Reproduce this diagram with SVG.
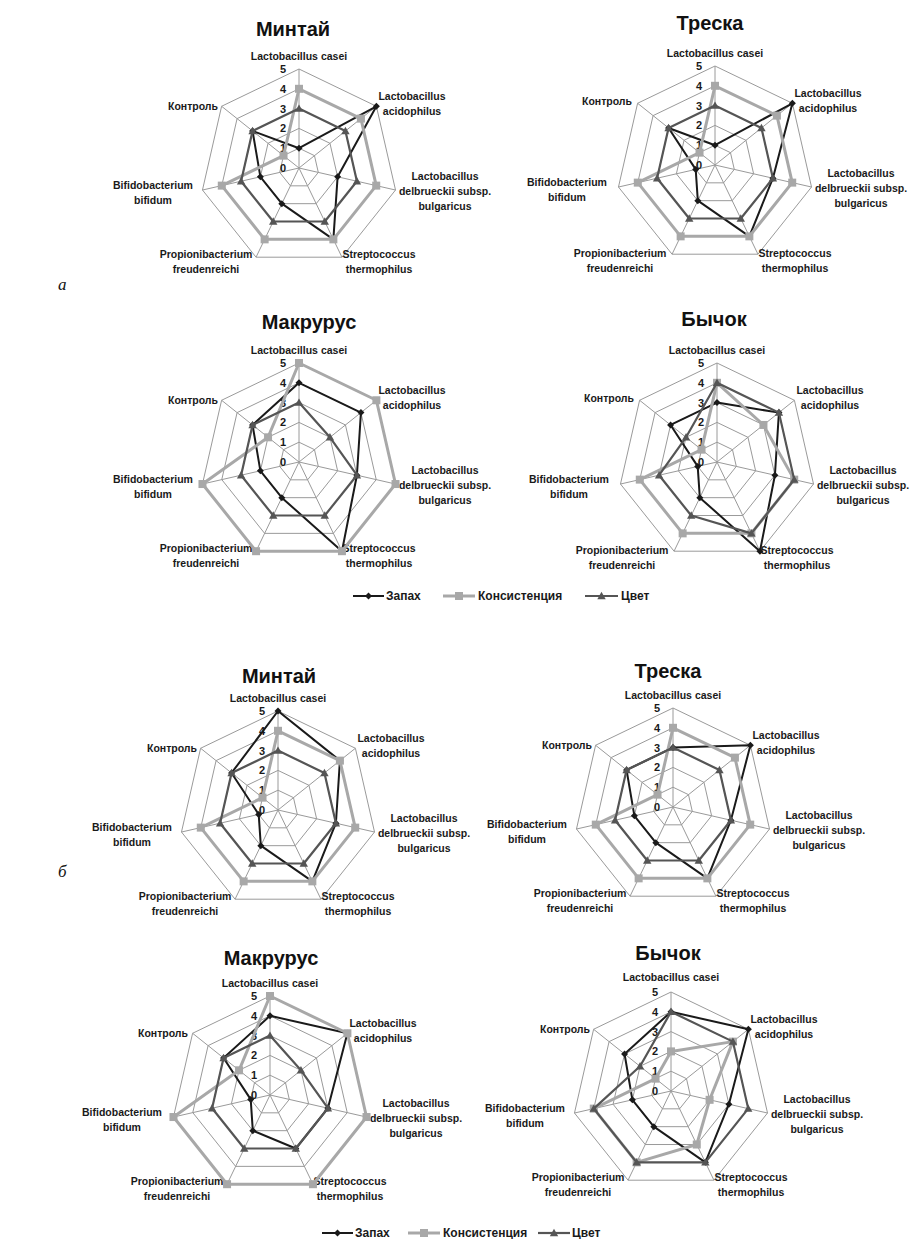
<svg xmlns="http://www.w3.org/2000/svg" width="918" height="1239" viewBox="0 0 918 1239">
<style>
.ring{fill:none;stroke:#9a9a9a;stroke-width:1}
.t{font-family:"Liberation Sans",Arial,sans-serif;font-weight:bold;font-size:10.5px;fill:#1a1a1a}
.m{text-anchor:middle}
.e{text-anchor:end}
.tk{font-size:11px;text-anchor:middle}
.title{font-family:"Liberation Sans",Arial,sans-serif;font-weight:bold;font-size:20px;fill:#111;text-anchor:middle}
.zap{fill:none;stroke:#1a1a1a;stroke-width:2;stroke-linejoin:round;marker-start:url(#mD);marker-mid:url(#mD)}
.kon{fill:none;stroke:#a8a8a8;stroke-width:3;stroke-linejoin:round;marker-start:url(#mS);marker-mid:url(#mS)}
.cv{fill:none;stroke:#555;stroke-width:2.2;stroke-linejoin:round;marker-start:url(#mT);marker-mid:url(#mT)}
.leg{font-family:"Liberation Sans",Arial,sans-serif;font-weight:bold;font-size:12px;fill:#1a1a1a}
.sub{font-family:"Liberation Serif","Times New Roman",serif;font-style:italic;font-size:17px;fill:#111}
</style>
<defs>
<marker id="mD" viewBox="-5 -5 10 10" markerWidth="10" markerHeight="10" markerUnits="userSpaceOnUse" refX="0" refY="0" overflow="visible"><path d="M0,-3.5 L3.5,0 L0,3.5 L-3.5,0 Z" fill="#1a1a1a"/></marker>
<marker id="mS" viewBox="-5 -5 10 10" markerWidth="10" markerHeight="10" markerUnits="userSpaceOnUse" refX="0" refY="0" overflow="visible"><rect x="-4" y="-4" width="8" height="8" fill="#a8a8a8"/></marker>
<marker id="mT" viewBox="-5 -5 10 10" markerWidth="10" markerHeight="10" markerUnits="userSpaceOnUse" refX="0" refY="0" overflow="visible"><path d="M0,-4.2 L4.2,3.2 L-4.2,3.2 Z" fill="#555"/></marker>
<g id="grid">
<polygon class="ring" points="0,-19.8 15.48,-12.35 19.3,4.41 8.59,17.84 -8.59,17.84 -19.3,4.41 -15.48,-12.35"/>
<polygon class="ring" points="0,-39.6 30.96,-24.69 38.61,8.81 17.18,35.68 -17.18,35.68 -38.61,8.81 -30.96,-24.69"/>
<polygon class="ring" points="0,-59.4 46.44,-37.04 57.91,13.22 25.77,53.52 -25.77,53.52 -57.91,13.22 -46.44,-37.04"/>
<polygon class="ring" points="0,-79.2 61.92,-49.38 77.22,17.62 34.36,71.36 -34.36,71.36 -77.22,17.62 -61.92,-49.38"/>
<polygon class="ring" points="0,-99 77.4,-61.73 96.52,22.03 42.95,89.2 -42.95,89.2 -96.52,22.03 -77.4,-61.73"/>
<path class="ring" d="M0,0L0,-99M0,0L77.4,-61.73M0,0L96.52,22.03M0,0L42.95,89.2M0,0L-42.95,89.2M0,0L-96.52,22.03M0,0L-77.4,-61.73"/>
</g>
</defs>
<rect width="918" height="1239" fill="#fff"/>

<text class="sub" x="58" y="290">а</text>
<text class="sub" x="58" y="877">б</text>

<!-- Chart 1 -->
<g id="chart-a-mintai" transform="translate(299,168)">
<text class="title" x="-6" y="-132">Минтай</text>
<use href="#grid"/>
<text class="t m" x="0" y="-108">Lactobacillus casei</text>
<text class="t m" x="113" y="-68">Lactobacillus</text>
<text class="t m" x="113" y="-53">acidophilus</text>
<text class="t m" x="146" y="12">Lactobacillus</text>
<text class="t m" x="146" y="27">delbrueckii subsp.</text>
<text class="t m" x="146" y="42">bulgaricus</text>
<text class="t m" x="80" y="90">Streptococcus</text>
<text class="t m" x="80" y="105">thermophilus</text>
<text class="t m" x="-93" y="90">Propionibacterium</text>
<text class="t m" x="-93" y="105">freudenreichi</text>
<text class="t m" x="-146" y="21">Bifidobacterium</text>
<text class="t m" x="-146" y="36">bifidum</text>
<text class="t e" x="-81" y="-58">Контроль</text>
<text class="t tk" x="-16" y="-95">5</text><text class="t tk" x="-16" y="-75">4</text><text class="t tk" x="-16" y="-55">3</text><text class="t tk" x="-16" y="-36">2</text><text class="t tk" x="-16" y="-16">1</text><text class="t tk" x="-16" y="4">0</text>
<polygon class="zap" points="0,-19.8 77.4,-61.73 38.61,8.81 34.36,71.36 -17.18,35.68 -38.61,8.81 -46.44,-37.04"/>
<polygon class="kon" points="0,-79.2 61.92,-49.38 77.22,17.62 34.36,71.36 -34.36,71.36 -77.22,17.62 -15.48,-12.35"/>
<polygon class="cv" points="0,-59.4 46.44,-37.04 57.91,13.22 25.77,53.52 -25.77,53.52 -57.91,13.22 -46.44,-37.04"/>
</g>

<!-- Chart 2 -->
<g id="chart-a-treska" transform="translate(715,165)">
<text class="title" x="-5" y="-135">Треска</text>
<use href="#grid"/>
<text class="t m" x="0" y="-108">Lactobacillus casei</text>
<text class="t m" x="113" y="-68">Lactobacillus</text>
<text class="t m" x="113" y="-53">acidophilus</text>
<text class="t m" x="146" y="12">Lactobacillus</text>
<text class="t m" x="146" y="27">delbrueckii subsp.</text>
<text class="t m" x="146" y="42">bulgaricus</text>
<text class="t m" x="80" y="92">Streptococcus</text>
<text class="t m" x="80" y="107">thermophilus</text>
<text class="t m" x="-95" y="92">Propionibacterium</text>
<text class="t m" x="-95" y="107">freudenreichi</text>
<text class="t m" x="-148" y="21">Bifidobacterium</text>
<text class="t m" x="-148" y="36">bifidum</text>
<text class="t e" x="-83" y="-60">Контроль</text>
<text class="t tk" x="-16" y="-95">5</text><text class="t tk" x="-16" y="-75">4</text><text class="t tk" x="-16" y="-55">3</text><text class="t tk" x="-16" y="-36">2</text><text class="t tk" x="-16" y="-16">1</text><text class="t tk" x="-16" y="4">0</text>
<polygon class="zap" points="0,-19.8 77.4,-61.73 57.91,13.22 34.36,71.36 -17.18,35.68 -19.3,4.41 -46.44,-37.04"/>
<polygon class="kon" points="0,-79.2 61.92,-49.38 77.22,17.62 34.36,71.36 -34.36,71.36 -77.22,17.62 -15.48,-12.35"/>
<polygon class="cv" points="0,-59.4 46.44,-37.04 57.91,13.22 25.77,53.52 -25.77,53.52 -57.91,13.22 -46.44,-37.04"/>
</g>

<!-- Chart 3 -->
<g id="chart-a-makrurus" transform="translate(299,462)">
<text class="title" x="10" y="-133">Макрурус</text>
<use href="#grid"/>
<text class="t m" x="0" y="-108">Lactobacillus casei</text>
<text class="t m" x="113" y="-68">Lactobacillus</text>
<text class="t m" x="113" y="-53">acidophilus</text>
<text class="t m" x="146" y="12">Lactobacillus</text>
<text class="t m" x="146" y="27">delbrueckii subsp.</text>
<text class="t m" x="146" y="42">bulgaricus</text>
<text class="t m" x="80" y="90">Streptococcus</text>
<text class="t m" x="80" y="105">thermophilus</text>
<text class="t m" x="-93" y="90">Propionibacterium</text>
<text class="t m" x="-93" y="105">freudenreichi</text>
<text class="t m" x="-146" y="21">Bifidobacterium</text>
<text class="t m" x="-146" y="36">bifidum</text>
<text class="t e" x="-81" y="-58">Контроль</text>
<text class="t tk" x="-16" y="-95">5</text><text class="t tk" x="-16" y="-75">4</text><text class="t tk" x="-16" y="-55">3</text><text class="t tk" x="-16" y="-36">2</text><text class="t tk" x="-16" y="-16">1</text><text class="t tk" x="-16" y="4">0</text>
<polygon class="zap" points="0,-79.2 61.92,-49.38 57.91,13.22 42.95,89.2 -17.18,35.68 -38.61,8.81 -46.44,-37.04"/>
<polygon class="kon" points="0,-99 77.4,-61.73 96.52,22.03 42.95,89.2 -42.95,89.2 -96.52,22.03 -30.96,-24.69"/>
<polygon class="cv" points="0,-59.4 30.96,-24.69 57.91,13.22 25.77,53.52 -25.77,53.52 -57.91,13.22 -46.44,-37.04"/>
</g>

<!-- Chart 4 -->
<g id="chart-a-bychok" transform="translate(717,462)">
<text class="title" x="-3" y="-136">Бычок</text>
<use href="#grid"/>
<text class="t m" x="0" y="-108">Lactobacillus casei</text>
<text class="t m" x="113" y="-68">Lactobacillus</text>
<text class="t m" x="113" y="-53">acidophilus</text>
<text class="t m" x="146" y="12">Lactobacillus</text>
<text class="t m" x="146" y="27">delbrueckii subsp.</text>
<text class="t m" x="146" y="42">bulgaricus</text>
<text class="t m" x="80" y="92">Streptococcus</text>
<text class="t m" x="80" y="107">thermophilus</text>
<text class="t m" x="-95" y="92">Propionibacterium</text>
<text class="t m" x="-95" y="107">freudenreichi</text>
<text class="t m" x="-148" y="21">Bifidobacterium</text>
<text class="t m" x="-148" y="36">bifidum</text>
<text class="t e" x="-83" y="-60">Контроль</text>
<text class="t tk" x="-16" y="-95">5</text><text class="t tk" x="-16" y="-75">4</text><text class="t tk" x="-16" y="-55">3</text><text class="t tk" x="-16" y="-36">2</text><text class="t tk" x="-16" y="-16">1</text><text class="t tk" x="-16" y="4">0</text>
<polygon class="zap" points="0,-59.4 61.92,-49.38 57.91,13.22 42.95,89.2 -17.18,35.68 -19.3,4.41 -46.44,-37.04"/>
<polygon class="kon" points="0,-79.2 46.44,-37.04 77.22,17.62 34.36,71.36 -34.36,71.36 -77.22,17.62 -15.48,-12.35"/>
<polygon class="cv" points="0,-79.2 61.92,-49.38 77.22,17.62 34.36,71.36 -25.77,53.52 -57.91,13.22 -30.96,-24.69"/>
</g>

<g id="legend-a">
<line x1="353" y1="596" x2="384" y2="596" stroke="#1a1a1a" stroke-width="2"/>
<path d="M368.5,592.5 L372,596 L368.5,599.5 L365,596 Z" fill="#1a1a1a"/>
<text class="leg" x="386" y="600">Запах</text>
<line x1="443" y1="596" x2="475" y2="596" stroke="#a8a8a8" stroke-width="3"/>
<rect x="455" y="592" width="8" height="8" fill="#a8a8a8"/>
<text class="leg" x="478" y="600">Консистенция</text>
<line x1="585" y1="596" x2="618" y2="596" stroke="#555" stroke-width="2.2"/>
<path d="M601.5,591.8 L605.7,599.2 L597.3,599.2 Z" fill="#555"/>
<text class="leg" x="621" y="600">Цвет</text>
</g>

<!-- Chart 5 -->
<g id="chart-b-mintai" transform="translate(278,810)">
<text class="title" x="1" y="-127">Минтай</text>
<use href="#grid"/>
<text class="t m" x="0" y="-108">Lactobacillus casei</text>
<text class="t m" x="113" y="-68">Lactobacillus</text>
<text class="t m" x="113" y="-53">acidophilus</text>
<text class="t m" x="146" y="12">Lactobacillus</text>
<text class="t m" x="146" y="27">delbrueckii subsp.</text>
<text class="t m" x="146" y="42">bulgaricus</text>
<text class="t m" x="80" y="90">Streptococcus</text>
<text class="t m" x="80" y="105">thermophilus</text>
<text class="t m" x="-93" y="90">Propionibacterium</text>
<text class="t m" x="-93" y="105">freudenreichi</text>
<text class="t m" x="-146" y="21">Bifidobacterium</text>
<text class="t m" x="-146" y="36">bifidum</text>
<text class="t e" x="-81" y="-58">Контроль</text>
<text class="t tk" x="-16" y="-95">5</text><text class="t tk" x="-16" y="-75">4</text><text class="t tk" x="-16" y="-55">3</text><text class="t tk" x="-16" y="-36">2</text><text class="t tk" x="-16" y="-16">1</text><text class="t tk" x="-16" y="4">0</text>
<polygon class="zap" points="0,-99 61.92,-49.38 57.91,13.22 34.36,71.36 -17.18,35.68 -19.3,4.41 -46.44,-37.04"/>
<polygon class="kon" points="0,-79.2 61.92,-49.38 77.22,17.62 34.36,71.36 -34.36,71.36 -77.22,17.62 -15.48,-12.35"/>
<polygon class="cv" points="0,-59.4 46.44,-37.04 57.91,13.22 25.77,53.52 -25.77,53.52 -57.91,13.22 -46.44,-37.04"/>
</g>

<!-- Chart 6 -->
<g id="chart-b-treska" transform="translate(673,807)">
<text class="title" x="-5" y="-129">Треска</text>
<use href="#grid"/>
<text class="t m" x="0" y="-108">Lactobacillus casei</text>
<text class="t m" x="113" y="-68">Lactobacillus</text>
<text class="t m" x="113" y="-53">acidophilus</text>
<text class="t m" x="146" y="12">Lactobacillus</text>
<text class="t m" x="146" y="27">delbrueckii subsp.</text>
<text class="t m" x="146" y="42">bulgaricus</text>
<text class="t m" x="80" y="90">Streptococcus</text>
<text class="t m" x="80" y="105">thermophilus</text>
<text class="t m" x="-93" y="90">Propionibacterium</text>
<text class="t m" x="-93" y="105">freudenreichi</text>
<text class="t m" x="-146" y="21">Bifidobacterium</text>
<text class="t m" x="-146" y="36">bifidum</text>
<text class="t e" x="-81" y="-58">Контроль</text>
<text class="t tk" x="-16" y="-95">5</text><text class="t tk" x="-16" y="-75">4</text><text class="t tk" x="-16" y="-55">3</text><text class="t tk" x="-16" y="-36">2</text><text class="t tk" x="-16" y="-16">1</text><text class="t tk" x="-16" y="4">0</text>
<polygon class="zap" points="0,-59.4 77.4,-61.73 57.91,13.22 34.36,71.36 -17.18,35.68 -38.61,8.81 -46.44,-37.04"/>
<polygon class="kon" points="0,-79.2 61.92,-49.38 77.22,17.62 34.36,71.36 -34.36,71.36 -77.22,17.62 -15.48,-12.35"/>
<polygon class="cv" points="0,-59.4 46.44,-37.04 57.91,13.22 25.77,53.52 -25.77,53.52 -57.91,13.22 -46.44,-37.04"/>
</g>

<!-- Chart 7 -->
<g id="chart-b-makrurus" transform="translate(270,1095)">
<text class="title" x="1" y="-130">Макрурус</text>
<use href="#grid"/>
<text class="t m" x="0" y="-108">Lactobacillus casei</text>
<text class="t m" x="113" y="-68">Lactobacillus</text>
<text class="t m" x="113" y="-53">acidophilus</text>
<text class="t m" x="146" y="12">Lactobacillus</text>
<text class="t m" x="146" y="27">delbrueckii subsp.</text>
<text class="t m" x="146" y="42">bulgaricus</text>
<text class="t m" x="80" y="90">Streptococcus</text>
<text class="t m" x="80" y="105">thermophilus</text>
<text class="t m" x="-93" y="90">Propionibacterium</text>
<text class="t m" x="-93" y="105">freudenreichi</text>
<text class="t m" x="-148" y="21">Bifidobacterium</text>
<text class="t m" x="-148" y="36">bifidum</text>
<text class="t e" x="-82" y="-58">Контроль</text>
<text class="t tk" x="-16" y="-95">5</text><text class="t tk" x="-16" y="-75">4</text><text class="t tk" x="-16" y="-55">3</text><text class="t tk" x="-16" y="-36">2</text><text class="t tk" x="-16" y="-16">1</text><text class="t tk" x="-16" y="4">0</text>
<polygon class="zap" points="0,-79.2 77.4,-61.73 57.91,13.22 25.77,53.52 -17.18,35.68 -19.3,4.41 -46.44,-37.04"/>
<polygon class="kon" points="0,-99 77.4,-61.73 96.52,22.03 42.95,89.2 -42.95,89.2 -96.52,22.03 -30.96,-24.69"/>
<polygon class="cv" points="0,-59.4 30.96,-24.69 57.91,13.22 25.77,53.52 -25.77,53.52 -57.91,13.22 -46.44,-37.04"/>
</g>

<!-- Chart 8 -->
<g id="chart-b-bychok" transform="translate(671,1091)">
<text class="title" x="-3" y="-131">Бычок</text>
<use href="#grid"/>
<text class="t m" x="0" y="-110">Lactobacillus casei</text>
<text class="t m" x="113" y="-68">Lactobacillus</text>
<text class="t m" x="113" y="-53">acidophilus</text>
<text class="t m" x="146" y="12">Lactobacillus</text>
<text class="t m" x="146" y="27">delbrueckii subsp.</text>
<text class="t m" x="146" y="42">bulgaricus</text>
<text class="t m" x="80" y="90">Streptococcus</text>
<text class="t m" x="80" y="105">thermophilus</text>
<text class="t m" x="-93" y="90">Propionibacterium</text>
<text class="t m" x="-93" y="105">freudenreichi</text>
<text class="t m" x="-146" y="21">Bifidobacterium</text>
<text class="t m" x="-146" y="36">bifidum</text>
<text class="t e" x="-81" y="-58">Контроль</text>
<text class="t tk" x="-16" y="-95">5</text><text class="t tk" x="-16" y="-75">4</text><text class="t tk" x="-16" y="-55">3</text><text class="t tk" x="-16" y="-36">2</text><text class="t tk" x="-16" y="-16">1</text><text class="t tk" x="-16" y="4">0</text>
<polygon class="zap" points="0,-79.2 77.4,-61.73 57.91,13.22 34.36,71.36 -17.18,35.68 -38.61,8.81 -46.44,-37.04"/>
<polygon class="kon" points="0,-39.6 61.92,-49.38 38.61,8.81 25.77,53.52 -34.36,71.36 -77.22,17.62 -15.48,-12.35"/>
<polygon class="cv" points="0,-79.2 61.92,-49.38 77.22,17.62 34.36,71.36 -34.36,71.36 -77.22,17.62 -30.96,-24.69"/>
</g>

<g id="legend-b">
<line x1="322" y1="1233" x2="353" y2="1233" stroke="#1a1a1a" stroke-width="2"/>
<path d="M337.5,1229.5 L341,1233 L337.5,1236.5 L334,1233 Z" fill="#1a1a1a"/>
<text class="leg" x="355" y="1237">Запах</text>
<line x1="408" y1="1233" x2="440" y2="1233" stroke="#a8a8a8" stroke-width="3"/>
<rect x="420" y="1229" width="8" height="8" fill="#a8a8a8"/>
<text class="leg" x="443" y="1237">Консистенция</text>
<line x1="538" y1="1233" x2="570" y2="1233" stroke="#555" stroke-width="2.2"/>
<path d="M554,1228.8 L558.2,1236.2 L549.8,1236.2 Z" fill="#555"/>
<text class="leg" x="572" y="1237">Цвет</text>
</g>
</svg>
